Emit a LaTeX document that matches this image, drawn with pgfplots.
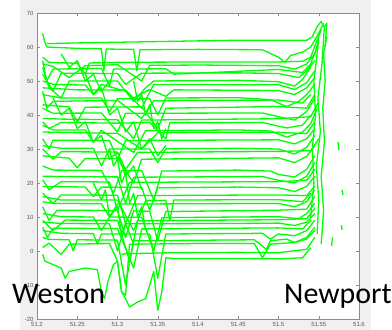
\documentclass[border=0pt]{standalone}
\usepackage{pgfplots}
\pgfplotsset{compat=1.18}
\usepackage{fontspec}
\setmainfont{Carlito}
\newfontfamily\tickfont{Liberation Sans}
\usetikzlibrary{backgrounds}
\definecolor{mg}{RGB}{0,255,0}
\definecolor{figbg}{RGB}{240,240,240}
\begin{document}
\begin{tikzpicture}
\begin{axis}[
  at={(37bp,11bp)}, anchor=south west,
  scale only axis, width=322bp, height=306bp,
  xmin=51.2, xmax=51.6, ymin=-20, ymax=70,
  xtick={51.2,51.25,51.3,51.35,51.4,51.45,51.5,51.55,51.6},
  ytick={-20,-10,0,10,20,30,40,50,60,70},
  /pgf/number format/assume math mode=true,
  xticklabel style={/pgf/number format/fixed,/pgf/number format/precision=2},
  tick label style={font=\tickfont\fontsize{6}{6}\selectfont, text=black!65},
  tick align=inside, major tick length=3bp,
  tick style={black!45, line width=0.5bp},
  axis line style={black!45, line width=0.6bp},
  axis background/.style={fill=white},
  cycle list={mg\\},
  every axis plot post/.append style={mg, solid, line width=1.3bp, mark=none, line join=round},
  clip=true,
]
\addplot coordinates {(51.212,61) (51.25,61.2) (51.3,61.4) (51.35,61.6) (51.4,61.8) (51.45,62) (51.5,62) (51.535,62) (51.542,63) (51.548,66) (51.553,67.5) (51.556,66)};
\addplot coordinates {(51.207,64) (51.209,62) (51.212,60) (51.25,59.6) (51.28,59.5) (51.283,53) (51.286,59.4) (51.32,59.3) (51.324,53) (51.328,59.2) (51.4,59.3) (51.48,59.2) (51.5,57) (51.508,55.5) (51.515,57.5) (51.53,58.5) (51.54,60) (51.55,64) (51.556,67)};
\addplot coordinates {(51.207,57) (51.215,55.5) (51.25,55.2) (51.26,52) (51.265,55.3) (51.3,55.5) (51.4,55.6) (51.5,55.6) (51.53,55.8) (51.54,57) (51.548,62) (51.553,65)};
\addplot coordinates {(51.207,55) (51.22,54.3) (51.24,51) (51.26,54.5) (51.3,54.8) (51.33,50) (51.34,54.6) (51.4,54.7) (51.5,54.5) (51.52,53.5) (51.535,55) (51.545,58) (51.55,62)};
\addplot coordinates {(51.207,56) (51.212,50) (51.22,53.5) (51.28,53.7) (51.29,48.5) (51.295,53.5) (51.36,53.6) (51.37,52) (51.5,53.4) (51.53,52.5) (51.54,55) (51.548,60)};
\addplot coordinates {(51.207,52) (51.22,47) (51.23,52.3) (51.3,52.2) (51.31,49) (51.33,52.3) (51.45,52.4) (51.5,52.2) (51.525,51) (51.535,53) (51.545,56)};
\addplot coordinates {(51.207,54) (51.215,48) (51.23,45) (51.24,50) (51.3,50) (51.32,44) (51.335,48) (51.345,50) (51.45,50.2) (51.5,49.8) (51.52,48.5) (51.53,50.5) (51.54,54)};
\addplot coordinates {(51.207,50) (51.22,49) (51.26,48.8) (51.27,46) (51.28,49) (51.31,47) (51.33,42) (51.345,49) (51.5,48.9) (51.52,47.5) (51.535,49.5) (51.545,53)};
\addplot coordinates {(51.207,48) (51.25,47.4) (51.31,47.3) (51.32,45) (51.34,47.5) (51.36,45.5) (51.37,47.4) (51.5,47.2) (51.52,46) (51.535,48) (51.545,51)};
\addplot coordinates {(51.207,46) (51.23,45) (51.28,45) (51.29,41) (51.3,44.8) (51.34,44.8) (51.35,40) (51.36,45) (51.45,45.1) (51.49,44.5) (51.51,42.5) (51.525,44) (51.535,46) (51.545,49)};
\addplot coordinates {(51.207,47) (51.212,42) (51.22,44) (51.3,44.3) (51.33,39) (51.345,44.2) (51.5,44.4) (51.53,43.5) (51.54,46)};
\addplot coordinates {(51.207,43) (51.24,42.4) (51.25,38) (51.26,42.3) (51.33,42.4) (51.35,36) (51.36,42) (51.5,42.5) (51.535,42) (51.545,46)};
\addplot coordinates {(51.207,42) (51.22,40.5) (51.28,40.6) (51.3,35) (51.31,40.5) (51.48,40.6) (51.5,39.5) (51.52,38.5) (51.535,41) (51.545,45)};
\addplot coordinates {(51.207,39) (51.23,38.8) (51.3,38.6) (51.32,33) (51.33,38.5) (51.45,38.8) (51.5,38.9) (51.54,39.5) (51.55,44)};
\addplot coordinates {(51.207,38) (51.215,36) (51.23,37.8) (51.3,37.6) (51.34,37.8) (51.36,33) (51.365,37.7) (51.48,37.8) (51.51,36.2) (51.53,37) (51.54,40)};
\addplot coordinates {(51.207,37) (51.22,35.6) (51.26,35.6) (51.27,32) (51.28,35.5) (51.32,29) (51.335,35.4) (51.45,35.6) (51.49,35.3) (51.51,33.5) (51.53,35) (51.54,37.5) (51.548,42)};
\addplot coordinates {(51.207,35) (51.25,34.8) (51.3,34.6) (51.33,30) (51.35,34.8) (51.5,34.9) (51.535,34.5) (51.545,38)};
\addplot coordinates {(51.207,33) (51.215,30) (51.22,32.6) (51.29,32.5) (51.3,27) (51.31,32.5) (51.5,32.7) (51.52,31.5) (51.535,33) (51.545,36)};
\addplot coordinates {(51.207,31) (51.23,30.2) (51.27,30.2) (51.28,25) (51.29,30) (51.34,30) (51.35,26) (51.36,30.1) (51.45,30.2) (51.5,30) (51.52,28.5) (51.535,30.5) (51.545,34)};
\addplot coordinates {(51.207,30) (51.22,27) (51.23,29.2) (51.3,29.1) (51.31,24) (51.325,29) (51.5,29.3) (51.54,29.5) (51.55,33)};
\addplot coordinates {(51.207,28) (51.24,27.3) (51.25,24.5) (51.26,27.2) (51.3,27.2) (51.32,20) (51.33,27) (51.5,27.4) (51.52,26) (51.535,27.8) (51.545,31)};
\addplot coordinates {(51.207,25) (51.22,23.8) (51.28,23.7) (51.295,17) (51.305,23.6) (51.33,23.7) (51.345,15) (51.355,23.5) (51.45,23.8) (51.49,23.5) (51.5,22.5) (51.52,21.8) (51.535,24) (51.545,28)};
\addplot coordinates {(51.207,22) (51.23,21.9) (51.3,21.8) (51.31,14) (51.32,21.7) (51.48,21.9) (51.5,20.8) (51.52,20) (51.535,22) (51.545,26)};
\addplot coordinates {(51.207,21) (51.215,18) (51.23,20.4) (51.29,20.3) (51.3,12) (51.315,20.2) (51.5,20.4) (51.535,20.8) (51.545,24)};
\addplot coordinates {(51.207,19) (51.24,18.9) (51.26,18.8) (51.27,16) (51.28,18.8) (51.33,18.7) (51.34,12) (51.35,18.6) (51.45,18.8) (51.5,18.6) (51.52,17.5) (51.535,19) (51.545,22)};
\addplot coordinates {(51.207,17) (51.22,14) (51.23,16.5) (51.3,16.4) (51.31,8) (51.325,16.3) (51.5,16.5) (51.535,16.3) (51.545,19)};
\addplot coordinates {(51.207,16) (51.23,15) (51.3,15) (51.32,6) (51.335,14.8) (51.36,14.9) (51.365,9) (51.37,15) (51.5,15.1) (51.53,14.5) (51.54,17)};
\addplot coordinates {(51.207,14.5) (51.22,14) (51.28,13.9) (51.29,10) (51.3,13.8) (51.5,14) (51.52,13) (51.535,14.5) (51.545,18)};
\addplot coordinates {(51.207,13) (51.215,9) (51.225,12) (51.3,11.9) (51.31,4) (51.32,11.8) (51.34,11.7) (51.35,3) (51.36,11.6) (51.5,12) (51.535,12.3) (51.545,16)};
\addplot coordinates {(51.207,11) (51.23,10.1) (51.27,10) (51.28,6) (51.29,10) (51.33,9.9) (51.345,0) (51.355,9.8) (51.45,10) (51.5,10.1) (51.525,9.5) (51.535,11) (51.545,14)};
\addplot coordinates {(51.207,9) (51.22,6) (51.235,9.1) (51.3,9) (51.315,-3) (51.325,8.9) (51.5,9.2) (51.535,9.5) (51.545,12.5)};
\addplot coordinates {(51.207,8.5) (51.23,8.1) (51.29,8) (51.3,0) (51.31,8) (51.45,8.1) (51.5,8.2) (51.52,7.5) (51.535,8.5) (51.545,11)};
\addplot coordinates {(51.207,7) (51.213,4) (51.22,6.7) (51.3,6.6) (51.32,-5) (51.33,6.5) (51.5,6.8) (51.53,6.5) (51.54,9)};
\addplot coordinates {(51.207,6) (51.23,5.2) (51.27,5.1) (51.275,2) (51.28,5) (51.34,5) (51.35,-8) (51.36,5) (51.48,5.2) (51.49,3.5) (51.5,5) (51.52,4.5) (51.535,6) (51.545,9)};
\addplot coordinates {(51.207,4) (51.215,3.4) (51.24,3.3) (51.245,0) (51.25,3.3) (51.3,3.2) (51.31,-10) (51.32,3) (51.47,3.3) (51.485,0.5) (51.49,3) (51.51,3.5) (51.52,2.5) (51.535,4) (51.545,7)};
\addplot coordinates {(51.207,1) (51.215,2.3) (51.23,-1) (51.24,2) (51.29,2.2) (51.3,-3) (51.305,-12) (51.31,-13) (51.315,2) (51.4,2.2) (51.47,2.2) (51.48,-2) (51.49,2) (51.52,2.5) (51.535,3.5) (51.545,6)};
\addplot coordinates {(51.305,-1) (51.31,-0.8) (51.37,-0.5) (51.45,-0.4) (51.5,-0.5) (51.535,0.5) (51.545,4)};
\addplot coordinates {(51.207,-1) (51.21,-3) (51.22,-4) (51.23,-5) (51.235,-8) (51.24,-6) (51.26,-5) (51.275,-5.5) (51.28,-12) (51.284,-14) (51.288,-9) (51.295,-4) (51.3,-3) (51.305,-12) (51.31,-14) (51.315,-16.5) (51.325,-15) (51.335,-14) (51.34,-10) (51.345,-6) (51.35,-17.5) (51.355,-12) (51.36,-2) (51.37,-2.2) (51.45,-2.2) (51.5,-2.3) (51.53,-2) (51.54,1)};
\addplot coordinates {(51.26,52) (51.27,46) (51.28,48) (51.29,40) (51.3,42) (51.31,35) (51.32,38) (51.33,30) (51.34,33) (51.35,28) (51.36,31)};
\addplot coordinates {(51.22,45) (51.23,40) (51.24,42) (51.25,36) (51.26,38) (51.27,32) (51.28,34) (51.29,27) (51.3,29) (51.31,22) (51.32,25) (51.33,18)};
\addplot coordinates {(51.29,30) (51.295,25) (51.3,27) (51.305,20) (51.31,23) (51.315,14) (51.32,17) (51.325,10) (51.33,13) (51.335,6)};
\addplot coordinates {(51.32,50) (51.325,44) (51.33,46) (51.335,40) (51.34,43) (51.345,36) (51.35,38) (51.355,33) (51.36,36)};
\addplot coordinates {(51.27,20) (51.28,15) (51.285,18) (51.29,10) (51.3,13) (51.305,5) (51.31,8) (51.32,2)};
\addplot coordinates {(51.23,58) (51.24,54) (51.25,56) (51.26,50) (51.27,52) (51.28,47) (51.29,50)};
\addplot coordinates {(51.548,5) (51.55,15) (51.547,25) (51.552,35) (51.549,45) (51.554,55) (51.557,66) (51.56,67) (51.558,60)};
\addplot coordinates {(51.553,2) (51.556,12) (51.553,22) (51.557,32) (51.555,42) (51.558,50) (51.556,58) (51.56,63)};
\addplot coordinates {(51.54,10) (51.544,20) (51.542,30) (51.546,40) (51.544,50) (51.548,58) (51.55,63)};
\addplot coordinates {(51.574,32) (51.575,29.7)};
\addplot coordinates {(51.579,18) (51.58,16.5)};
\addplot coordinates {(51.578,7.6) (51.579,6.2)};
\addplot coordinates {(51.567,4) (51.566,1.5)};
\end{axis}
\begin{scope}[on background layer]
\fill[figbg] (20bp,0) rectangle (371bp,330bp);
\end{scope}
\node[anchor=base west, inner sep=0, font=\fontsize{30}{30}\selectfont] at (12bp,27bp) {Weston};
\node[anchor=base west, inner sep=0, font=\fontsize{30}{30}\selectfont] at (284bp,27bp) {Newport};
\pgfresetboundingbox
\useasboundingbox (0,0) rectangle (392bp,330bp);
\end{tikzpicture}
\end{document}
